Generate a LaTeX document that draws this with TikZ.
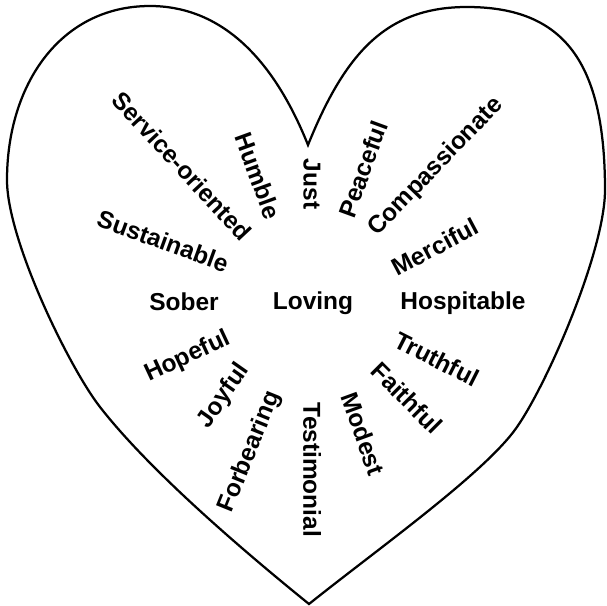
\documentclass[tikz,border=0pt]{standalone}
\usepackage{fontspec}
\setmainfont{Liberation Sans}

\begin{document}
\begin{tikzpicture}[x=0.025cm, y=-0.025cm,
    word/.style={inner sep=0pt, font=\fontsize{17.4}{20}\selectfont\bfseries},
    heart/.style={line width=1.6pt, line join=miter}]
    \useasboundingbox (0,0) rectangle (607,606);

    % heart outline, from the top notch round the left lobe
    \draw[heart] (308,145) .. controls (270,50) and (215,6) .. (150,6)
        .. controls (60,6) and (7,85) .. (7,180)
        .. controls (7,240) and (69.2,367.5) .. (100,407)
        .. controls (144,463.5) and (225,536) .. (309,604)
        .. controls (379,548) and (485.5,472.5) .. (517,427)
        .. controls (548.5,381.5) and (605,250) .. (605,190)
        .. controls (605,62) and (564,7) .. (467,7)
        .. controls (387,7) and (345.5,52) .. (308,145) -- cycle;

    \node[word] (loving) at (313,303) {Loving};

    \node[word, rotate=-90] (just) at (312,184) {Just};
    \node[word, rotate=70] (peaceful) at (363,169) {Peaceful};
    \node[word, rotate=46] (compassionate) at (436,167) {Compassionate};
    \node[word, rotate=28] (merciful) at (435,247) {Merciful};
    \node[word] (hospitable) at (463,303) {Hospitable};
    \node[word, rotate=-27] (truthful) at (437,359) {Truthful};
    \node[word, rotate=-45] (faithful) at (407,398) {Faithful};
    \node[word, rotate=-70] (modest) at (363,434) {Modest};
    \node[word, rotate=-90] (testimonial) at (312,470) {Testimonial};
    \node[word, rotate=68] (forbearing) at (250,452) {Forbearing};
    \node[word, rotate=55] (joyful) at (224,396) {Joyful};
    \node[word, rotate=25] (hopeful) at (188,357) {Hopeful};
    \node[word] (sober) at (184,302) {Sober};
    \node[word, rotate=-20] (sustainable) at (163,241) {Sustainable};
    \node[word, rotate=-47] (serviceoriented) at (182,166) {Service-oriented};
    \node[word, rotate=-70] (humble) at (258,176) {Humble};

\end{tikzpicture}
\end{document}
